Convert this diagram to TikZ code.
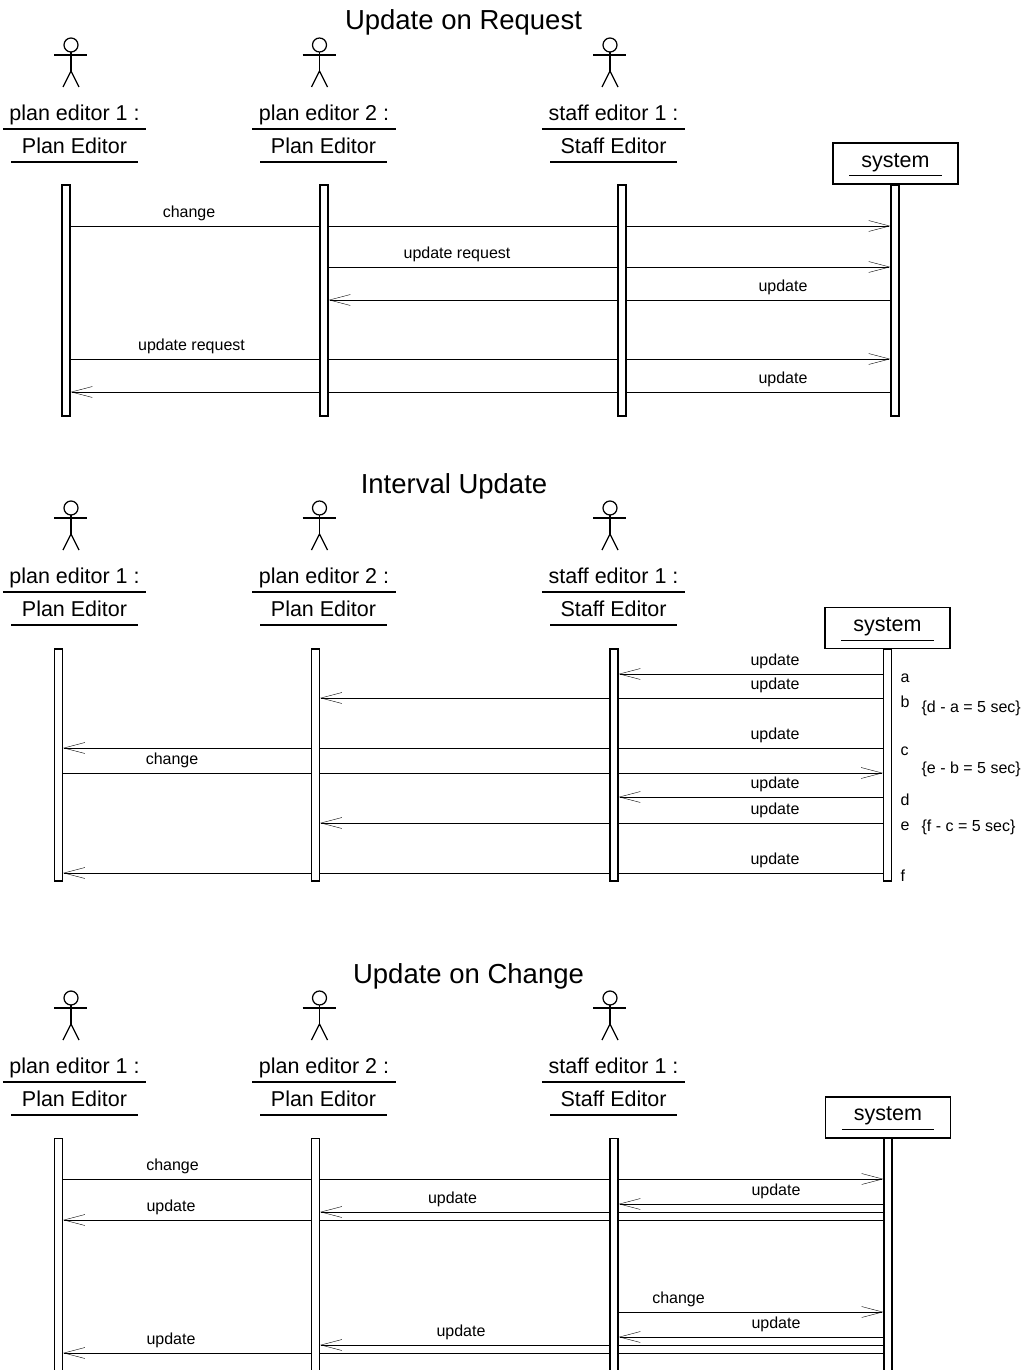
\documentclass[tikz,border=0pt]{standalone}
\usepackage{fontspec}
\setmainfont{Liberation Sans}
\usetikzlibrary{arrows.meta,backgrounds}
\tikzset{
    heading/.style = {
        anchor=base,
        font=\fontsize{27.5}{30}\selectfont
    },
    objname/.style = {
        anchor=south,
        inner xsep=0pt,
        inner ysep=3pt,
        text height=16pt,
        text depth=5pt,
        minimum width=#1,
        font=\fontsize{21.5}{24}\selectfont,
        append after command={(\tikzlastnode.south west) edge (\tikzlastnode.south east)}
    },
    objname/.default=142pt,
    sysbox/.style = {
        draw,
        inner sep=0pt,
        minimum width=125pt,
        minimum height=41pt
    },
    lifeline/.style = {
        draw,
        fill=white,
        inner sep=0pt,
        minimum width=8pt,
        minimum height=#1
    },
    msg/.style = {
        anchor=base,
        font=\fontsize{16}{18}\selectfont
    },
    instant/.style = {
        anchor=base west,
        inner sep=0pt,
        font=\fontsize{16}{18}\selectfont
    },
    actor/.pic = {
        \draw (0,0) circle[radius=7pt];
        \draw (-17,10) -- (16,10);
        \draw (0,7) -- (0,26);
        \draw (-8,42) -- (0,26) -- (8,42);
    },
    >={Straight Barb[length=21pt,width=11pt]},
}

\begin{document}
\begin{tikzpicture}[x=1pt, y=-1pt, line width=1.25pt]
                \useasboundingbox (0,0) rectangle (1032,1370);

                % update on request
                \node[heading] (t1) at (463.5,30) {Update on Request};
                \pic (a11) at (71,45) {actor};
                \pic (a12) at (319.5,45) {actor};
                \pic (a13) at (610,45) {actor};
                \node[objname] (n11) at (74.5,129) {plan editor 1 :};
                \node[objname] (n12) at (324,129) {plan editor 2 :};
                \node[objname] (n13) at (613.5,129) {staff editor 1 :};
                \node[objname=125pt] (c11) at (74.5,162) {Plan Editor};
                \node[objname=125pt] (c12) at (323.5,162) {Plan Editor};
                \node[objname=125pt] (c13) at (613.5,162) {Staff Editor};
                \node[sysbox] (sb1) at (895.5,163.5) {};
                \node[objname=91pt] (s1) at (895.5,175.7) {system};
                \node[lifeline=231pt] (pe11) at (66,300.5) {};
                \node[lifeline=231pt] (pe12) at (324,300.5) {};
                \node[lifeline=231pt] (se11) at (622,300.5) {};
                \node[lifeline=231pt] (sy1) at (895,300.5) {};

                \coordinate (m11) at (0,226);
                \coordinate (m12) at (0,267);
                \coordinate (m13) at (0,300);
                \coordinate (m14) at (0,359);
                \coordinate (m15) at (0,392);
                \begin{scope}[on background layer]
                    \path[draw, ->] (pe11.east |- m11) -- (sy1.west |- m11);
                    \path[draw, ->] (pe12.east |- m12) -- (sy1.west |- m12);
                    \path[draw, ->] (sy1.west |- m13) -- (pe12.east |- m13);
                    \path[draw, ->] (pe11.east |- m14) -- (sy1.west |- m14);
                    \path[draw, ->] (sy1.west |- m15) -- (pe11.east |- m15);
                \end{scope}
                \node[msg] (l11) at (189,217) {change};
                \node[msg] (l12) at (457,258) {update request};
                \node[msg] (l13) at (783,291) {update};
                \node[msg] (l14) at (191.5,350) {update request};
                \node[msg] (l15) at (783,383) {update};

                % interval update
                \node[heading] (t2) at (454,493) {Interval Update};
                \pic (a21) at (71,508) {actor};
                \pic (a22) at (319.5,508) {actor};
                \pic (a23) at (610,508) {actor};
                \node[objname] (n21) at (74.5,592) {plan editor 1 :};
                \node[objname] (n22) at (324,592) {plan editor 2 :};
                \node[objname] (n23) at (613.5,592) {staff editor 1 :};
                \node[objname=125pt] (c21) at (74.5,625) {Plan Editor};
                \node[objname=125pt] (c22) at (323.5,625) {Plan Editor};
                \node[objname=125pt] (c23) at (613.5,625) {Staff Editor};
                \node[sysbox] (sb2) at (887.5,628) {};
                \node[objname=91pt] (s2) at (887.5,640.5) {system};
                \node[lifeline=232pt] (pe21) at (58.5,765) {};
                \node[lifeline=232pt] (pe22) at (315.5,765) {};
                \node[lifeline=232pt] (se21) at (614,765) {};
                \node[lifeline=232pt] (sy2) at (887.5,765) {};

                \coordinate (m21) at (0,674);
                \coordinate (m22) at (0,698);
                \coordinate (m23) at (0,748);
                \coordinate (m24) at (0,773);
                \coordinate (m25) at (0,797);
                \coordinate (m26) at (0,823);
                \coordinate (m27) at (0,873);
                \begin{scope}[on background layer]
                    \path[draw, ->] (sy2.west |- m21) -- (se21.east |- m21);
                    \path[draw, ->] (sy2.west |- m22) -- (pe22.east |- m22);
                    \path[draw, ->] (sy2.west |- m23) -- (pe21.east |- m23);
                    \path[draw, ->] (pe21.east |- m24) -- (sy2.west |- m24);
                    \path[draw, ->] (sy2.west |- m25) -- (se21.east |- m25);
                    \path[draw, ->] (sy2.west |- m26) -- (pe22.east |- m26);
                    \path[draw, ->] (sy2.west |- m27) -- (pe21.east |- m27);
                \end{scope}
                \node[msg] (l21) at (775,665) {update};
                \node[msg] (l22) at (775,689) {update};
                \node[msg] (l23) at (775,739) {update};
                \node[msg] (l24) at (172,764) {change};
                \node[msg] (l25) at (775,788) {update};
                \node[msg] (l26) at (775,814) {update};
                \node[msg] (l27) at (775,864) {update};
                \node[instant] (ta) at (900,682) {a};
                \node[instant] (tb) at (900,707) {b};
                \node[instant] (tc) at (900,755) {c};
                \node[instant] (td) at (900,805) {d};
                \node[instant] (te) at (900,830) {e};
                \node[instant] (tf) at (900,881) {f};
                \node[instant] (k1) at (921,712) {\{d - a = 5 sec\}};
                \node[instant] (k2) at (921,773) {\{e - b = 5 sec\}};
                \node[instant] (k3) at (921,831.5) {\{f - c = 5 sec\}};

                % update on change
                \node[heading] (t3) at (468.5,983) {Update on Change};
                \pic (a31) at (71,998) {actor};
                \pic (a32) at (319.5,998) {actor};
                \pic (a33) at (610,998) {actor};
                \node[objname] (n31) at (74.5,1082) {plan editor 1 :};
                \node[objname] (n32) at (324,1082) {plan editor 2 :};
                \node[objname] (n33) at (613.5,1082) {staff editor 1 :};
                \node[objname=125pt] (c31) at (74.5,1115) {Plan Editor};
                \node[objname=125pt] (c32) at (323.5,1115) {Plan Editor};
                \node[objname=125pt] (c33) at (613.5,1115) {Staff Editor};
                \node[sysbox] (sb3) at (888,1117.5) {};
                \node[objname=91pt] (s3) at (888,1129.3) {system};
                \node[lifeline=241.5pt] (pe31) at (58.5,1259.25) {};
                \node[lifeline=241.5pt] (pe32) at (315.5,1259.25) {};
                \node[lifeline=241.5pt] (se31) at (614,1259.25) {};
                \node[lifeline=241.5pt] (sy3) at (888,1259.25) {};

                \coordinate (m31) at (0,1179);
                \coordinate (m32) at (0,1204);
                \coordinate (m33) at (0,1212);
                \coordinate (m34) at (0,1220);
                \coordinate (m35) at (0,1312);
                \coordinate (m36) at (0,1337);
                \coordinate (m37) at (0,1345);
                \coordinate (m38) at (0,1353);
                \begin{scope}[on background layer]
                    \path[draw, ->] (pe31.east |- m31) -- (sy3.west |- m31);
                    \path[draw, ->] (sy3.west |- m32) -- (se31.east |- m32);
                    \path[draw, ->] (sy3.west |- m33) -- (pe32.east |- m33);
                    \path[draw, ->] (sy3.west |- m34) -- (pe31.east |- m34);
                    \path[draw, ->] (se31.east |- m35) -- (sy3.west |- m35);
                    \path[draw, ->] (sy3.west |- m36) -- (se31.east |- m36);
                    \path[draw, ->] (sy3.west |- m37) -- (pe32.east |- m37);
                    \path[draw, ->] (sy3.west |- m38) -- (pe31.east |- m38);
                \end{scope}
                \node[msg] (l31) at (172.5,1170) {change};
                \node[msg] (l32) at (776,1195) {update};
                \node[msg] (l33) at (452.5,1203) {update};
                \node[msg] (l34) at (171,1211) {update};
                \node[msg] (l35) at (678.5,1303) {change};
                \node[msg] (l36) at (776,1328) {update};
                \node[msg] (l37) at (461,1336) {update};
                \node[msg] (l38) at (171,1344) {update};
\end{tikzpicture}
\end{document}
